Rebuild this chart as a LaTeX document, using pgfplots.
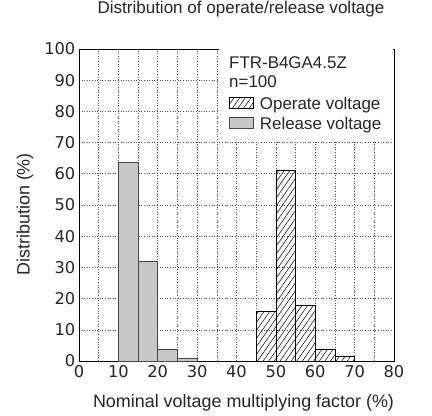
\documentclass[border=0pt]{standalone}
\usepackage{fontspec}
\setmainfont{Liberation Sans}
\newfontfamily\tickfont{DejaVu Sans}
\usepackage{pgfplots}
\pgfplotsset{compat=1.18}
\usetikzlibrary{patterns.meta}

\definecolor{relfill}{RGB}{200,200,200}
\definecolor{reldraw}{RGB}{70,70,70}
\definecolor{gridc}{RGB}{80,80,80}

\begin{document}
\begin{tikzpicture}[x=1bp,y=1bp]
\path[use as bounding box] (-79,-55) rectangle (353,361);
\begin{axis}[
    at={(0,0)}, anchor=south west,
    scale only axis,
    width=315bp, height=312bp,
    xmin=0, xmax=80, ymin=0, ymax=100,
    xtick={0,10,...,80},
    ytick={0,10,...,100},
    minor x tick num=1,
    major tick length=0pt, minor tick length=0pt,
    grid=both,
    grid style={dash pattern=on 1bp off 1.6bp, gridc, line width=0.6bp},
    minor grid style={dash pattern=on 1bp off 1.6bp, gridc, line width=0.6bp},
    axis line style={black, line width=0.7bp},
    /pgf/number format/assume math mode=true,
    ticklabel style={font=\tickfont\fontsize{16.3}{18}\selectfont, text=black!85},
    xticklabel style={inner ysep=0pt, yshift=-4bp},
    yticklabel style={inner xsep=0pt, xshift=-3.5bp},
    xlabel={Nominal voltage multiplying factor (\%)},
    ylabel={Distribution (\%)},
    label style={font=\fontsize{18}{21}\selectfont, text=black!85},
    xlabel style={at={(0.5,0)}, anchor=center, yshift=-42bp, xshift=7bp},
    ylabel style={at={(0,0.47)}, anchor=center, yshift=54bp},
    title={Distribution of operate/release voltage},
    title style={font=\fontsize{17.1}{20}\selectfont, text=black!85, at={(0.5,1)}, anchor=center, yshift=34bp, xshift=4.5bp},
    legend style={at={(axis cs:38.1,84.6)}, anchor=north west, draw=none, fill=none,
        inner sep=0pt, row sep=4bp,
        font=\fontsize{17}{20}\selectfont,
        nodes={inner sep=0pt, text height=12bp, text depth=4bp, text=black!85}},
    legend cell align=left,
    legend image code/.code={\draw[#1, line width=0.7bp] (0bp,-3.4bp) rectangle (24bp,7.6bp); \path (30bp,0bp);},
]
% white box behind the legend
\fill[white] (axis cs:35.6,70.4) rectangle (axis cs:79.85,99.85);

\addplot[ybar, bar width=5, bar shift=0pt, draw=black, line width=0.7bp,
    fill=white, pattern={Lines[angle=55, distance=4.6bp, line width=0.5bp]}]
coordinates {
    (47.5,15.8) (52.5,61.2) (57.5,17.9) (62.5,3.7) (67.5,1.4)
};
\addlegendentry{Operate voltage}

\addplot[ybar, bar width=5, bar shift=0pt, draw=reldraw, line width=0.7bp, fill=relfill]
coordinates {
    (12.5,63.8) (17.5,31.9) (22.5,3.8) (27.5,0.9)
};
\addlegendentry{Release voltage}

\node[anchor=west, inner sep=0pt, text=black!85, font=\fontsize{17}{20}\selectfont] at (axis cs:38.1,95.5) {FTR-B4GA4.5Z};
\node[anchor=west, inner sep=0pt, text=black!85, font=\fontsize{17}{20}\selectfont] at (axis cs:38.1,89.4) {n=100};
\end{axis}
\end{tikzpicture}
\end{document}
